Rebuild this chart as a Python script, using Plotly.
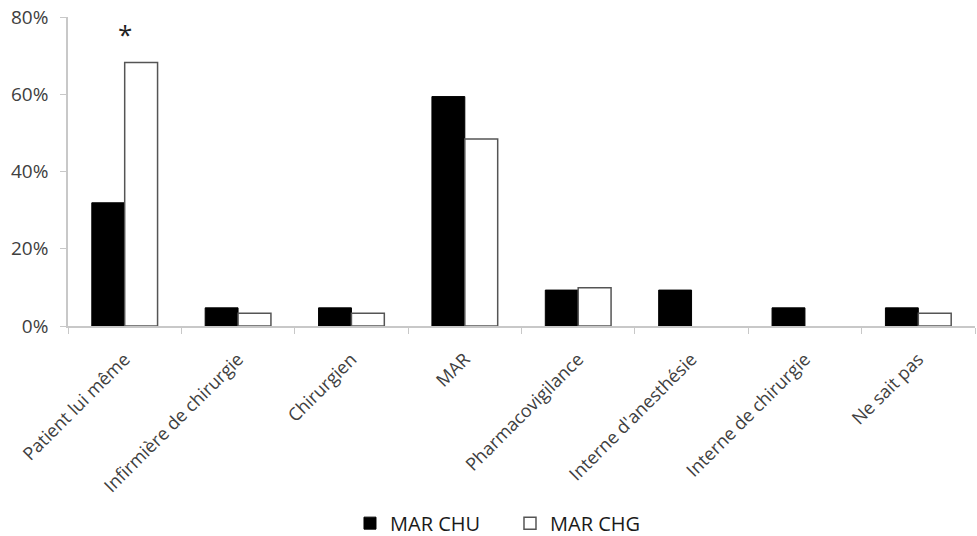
import plotly.graph_objects as go

categories = ["Patient lui même", "Infirmière de chirurgie", "Chirurgien", "MAR",
              "Pharmacovigilance", "Interne d'anesthésie", "Interne de chirurgie", "Ne sait pas"]
mar_chu = [31.9, 4.7, 4.7, 59.4, 9.3, 9.3, 4.7, 4.7]
mar_chg = [68.2, 3.3, 3.3, 48.4, 9.9, None, None, 3.3]
y_ticks = [0, 20, 40, 60, 80]
y_tick_labels = ["0%", "20%", "40%", "60%", "80%"]

FONT = "Open Sans, Lato, sans-serif"
TXT = "#404040"
AX = "#c8c8c8"

fig = go.Figure()
fig.add_trace(go.Bar(name="MAR CHU", x=categories, y=mar_chu,
                     marker=dict(color="#000000", line=dict(color="#000000", width=1))))
fig.add_trace(go.Bar(name="MAR CHG", x=categories, y=mar_chg,
                     marker=dict(color="#ffffff", line=dict(color="#555555", width=1.5))))

fig.add_annotation(x=categories[0], y=75.5, text="*", showarrow=False,
                   font=dict(family=FONT, size=26, color="#222222"))

fig.update_layout(
    width=977, height=536,
    margin=dict(l=68, r=2, t=17, b=210, autoexpand=False),
    paper_bgcolor="white", plot_bgcolor="white",
    barmode="group", bargap=0.42, bargroupgap=0,
    font=dict(family=FONT, size=16, color=TXT),
    showlegend=True,
    legend=dict(orientation="h", xref="container", yref="container",
                x=0.522, xanchor="center", y=0.024, yanchor="middle",
                font=dict(family=FONT, size=20, color="#1a1a1a"),
                itemwidth=30, entrywidth=115, entrywidthmode="pixels",
                traceorder="normal"),
)
fig.update_xaxes(showline=True, linecolor=AX, linewidth=1.5, ticks="outside",
                 tickson="boundaries", ticklen=6, tickcolor=AX, tickangle=-45,
                 ticklabelstandoff=14, automargin=False,
                 tickfont=dict(family=FONT, size=18, color=TXT), showgrid=False)
fig.update_yaxes(range=[0, 80], tickmode="array", tickvals=y_ticks, ticktext=y_tick_labels,
                 showline=True, linecolor=AX, linewidth=1.5, ticks="outside", ticklen=6,
                 tickcolor=AX, showgrid=False, zeroline=False, ticklabelstandoff=8,
                 automargin=False, ticklabeloverflow="allow",
                 tickfont=dict(family=FONT, size=19, color=TXT))

fig.write_html("out.html", config={"displayModeBar": False},
               post_script="document.body.style.margin='0';")
